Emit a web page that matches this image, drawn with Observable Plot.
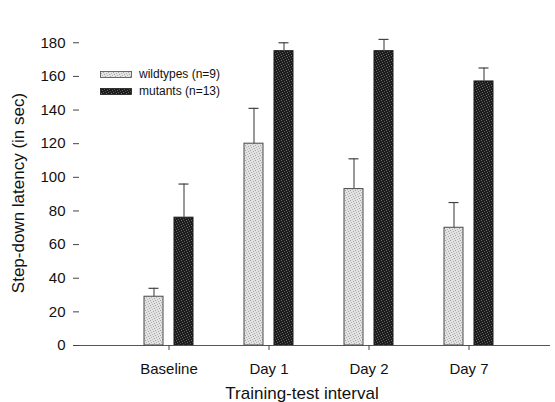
<!DOCTYPE html>
<html>
<head>
<meta charset="utf-8">
<script src="https://cdn.jsdelivr.net/npm/d3@7"></script>
<script src="https://cdn.jsdelivr.net/npm/@observablehq/plot@0.6"></script>
<style>
  html, body { margin: 0; padding: 0; background: #fff; }
  #wrap { position: relative; width: 555px; height: 402px; overflow: hidden; font-family: "Liberation Sans", Arial, sans-serif; }
  #legend { position: absolute; left: 0; top: 0; }
  .lg-row { position: absolute; font-size: 12px; color: #111; white-space: nowrap; line-height: 14px; }
</style>
</head>
<body>
<svg width="0" height="0" style="position:absolute">
  <defs>
    <pattern id="wtPat" width="5" height="5" patternUnits="userSpaceOnUse" shape-rendering="crispEdges">
      <rect width="5" height="5" fill="#e2e2e2"/>
      <rect x="0" y="0" width="1" height="1" fill="#a0a0a0"/>
      <rect x="3" y="1" width="1" height="1" fill="#a8a8a8"/>
      <rect x="1" y="2" width="1" height="1" fill="#b4b4b4"/>
      <rect x="4" y="3" width="1" height="1" fill="#a4a4a4"/>
      <rect x="2" y="4" width="1" height="1" fill="#b8b8b8"/>
    </pattern>
    <pattern id="mtPat" width="5" height="5" patternUnits="userSpaceOnUse" shape-rendering="crispEdges">
      <rect width="5" height="5" fill="#1c1c1c"/>
      <rect x="1" y="0" width="1" height="1" fill="#6e6e6e"/>
      <rect x="4" y="1" width="1" height="1" fill="#5a5a5a"/>
      <rect x="2" y="2" width="1" height="1" fill="#666"/>
      <rect x="0" y="3" width="1" height="1" fill="#505050"/>
      <rect x="3" y="4" width="1" height="1" fill="#626262"/>
    </pattern>
  </defs>
</svg>
<div id="wrap">
  <div id="chart"></div>
  <div id="legend"></div>
</div>
<script>
// ---- data ----
const groups = ["Baseline", "Day 1", "Day 2", "Day 7"];
const wildtypeMean = [29, 120, 93, 70];
const wildtypeErr = [5, 21, 18, 15];
const mutantMean = [76, 175, 175, 157];
const mutantErr = [20, 5, 7, 8];
const yTicks = [0, 20, 40, 60, 80, 100, 120, 140, 160, 180];
const seriesLabels = ["wildtypes (n=9)", "mutants (n=13)"];
const xTitle = "Training-test interval";
const yTitle = "Step-down latency (in sec)";

const wt = groups.map((g, i) => ({group: g, value: wildtypeMean[i], top: wildtypeMean[i] + wildtypeErr[i]}));
const mt = groups.map((g, i) => ({group: g, value: mutantMean[i], top: mutantMean[i] + mutantErr[i]}));

const font = "'Liberation Sans', Arial, sans-serif";

const chart = Plot.plot({
  width: 555,
  height: 402,
  marginLeft: 79,
  marginRight: 5,
  marginTop: 12,
  marginBottom: 57,
  style: {fontFamily: font, fontSize: "15px", color: "#111", background: "transparent"},
  x: {domain: groups, paddingInner: 0.51, paddingOuter: 0.61, align: 0.533, label: null},
  y: {domain: [0, 198], label: null},
  marks: [
    Plot.barY(wt, {x: "group", y: "value", insetRight: 30, fill: "url(#wtPat)", stroke: "#4a4a4a", strokeWidth: 1}),
    Plot.barY(mt, {x: "group", y: "value", insetLeft: 30, fill: "url(#mtPat)", stroke: "#1a1a1a", strokeWidth: 1}),
    Plot.ruleX(wt, {x: "group", y1: "value", y2: "top", dx: -15, stroke: "#555", strokeWidth: 1.2}),
    Plot.ruleX(mt, {x: "group", y1: "value", y2: "top", dx: 15, stroke: "#555", strokeWidth: 1.2}),
    Plot.tickY(wt, {x: "group", y: "top", insetLeft: 4.5, insetRight: 34.5, stroke: "#444", strokeWidth: 1.2}),
    Plot.tickY(mt, {x: "group", y: "top", insetLeft: 34.5, insetRight: 4.5, stroke: "#444", strokeWidth: 1.2}),
    Plot.ruleY([0], {stroke: "#555", strokeWidth: 1}),
    Plot.axisY({ticks: yTicks, tickSize: 6, tickPadding: 8, line: true, stroke: "#444", fontSize: 15, label: null}),
    Plot.axisX({tickSize: 5, tickPadding: 13, stroke: "#444", fontSize: 15, label: null}),
    Plot.text([xTitle], {frameAnchor: "bottom", textAnchor: "middle", dx: -13, dy: 48, fontSize: 17, lineAnchor: "middle", fill: "#111"}),
    Plot.text([yTitle], {frameAnchor: "left", textAnchor: "middle", rotate: -90, dx: -61, dy: 14, fontSize: 17, lineAnchor: "middle", fill: "#111"})
  ]
});
document.getElementById("chart").appendChild(chart);

// ---- legend (HTML overlay) ----
const legend = document.getElementById("legend");
const fills = ["url(#wtPat)", "url(#mtPat)"];
const strokes = ["#4a4a4a", "#1a1a1a"];
const rowTops = [71, 88];
seriesLabels.forEach((lab, i) => {
  const sw = document.createElementNS("http://www.w3.org/2000/svg", "svg");
  sw.setAttribute("width", "32");
  sw.setAttribute("height", "7");
  sw.style.position = "absolute";
  sw.style.left = "100px";
  sw.style.top = rowTops[i] + "px";
  const r = document.createElementNS("http://www.w3.org/2000/svg", "rect");
  r.setAttribute("x", "0.5"); r.setAttribute("y", "0.5");
  r.setAttribute("width", "31"); r.setAttribute("height", "6");
  r.setAttribute("fill", fills[i]); r.setAttribute("stroke", strokes[i]); r.setAttribute("stroke-width", "0.8");
  sw.appendChild(r);
  legend.appendChild(sw);
  const t = document.createElement("div");
  t.className = "lg-row";
  t.style.left = "139px";
  t.style.top = (rowTops[i] - 4) + "px";
  t.textContent = lab;
  legend.appendChild(t);
});
</script>
</body>
</html>
